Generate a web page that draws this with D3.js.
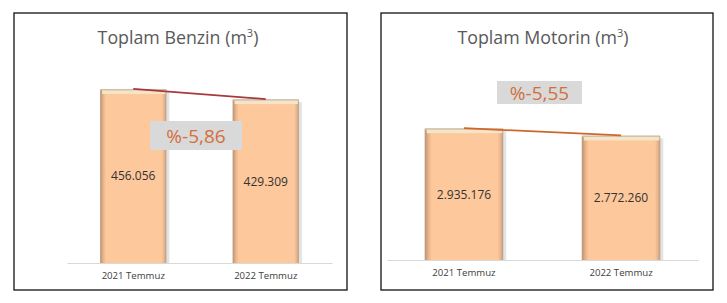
<!DOCTYPE html>
<html><head><meta charset="utf-8">
<script src="https://cdn.jsdelivr.net/npm/d3@7"></script>
<style>body{margin:0;background:#fff;} svg{display:block;font-family:"Open Sans",sans-serif;}</style>
</head><body>
<svg id="c" width="727" height="303"></svg>
<script>
const categories = ["2021 Temmuz", "2022 Temmuz"];
const benzinValues = [456056, 429309];
const benzinLabels = ["456.056", "429.309"];
const benzinChange = "%-5,86";
const motorinValues = [2935176, 2772260];
const motorinLabels = ["2.935.176", "2.772.260"];
const motorinChange = "%-5,55";

const svg = d3.select("#c");
const defs = svg.append("defs");
const g1 = defs.append("linearGradient").attr("id","barGrad").attr("x1","0").attr("x2","1").attr("y1","0").attr("y2","0");
[["0%","#b89274"],["5%","#e9b58a"],["9%","#fdc89b"],["93%","#fdc89b"],["97%","#e5b38b"],["100%","#b59a86"]]
  .forEach(([o,c])=>g1.append("stop").attr("offset",o).attr("stop-color",c));

function panel(opt){
  const g = svg.append("g");
  g.append("rect").attr("x",opt.box[0]).attr("y",opt.box[1]).attr("width",opt.box[2]).attr("height",opt.box[3])
    .attr("fill","#fff").attr("stroke","#111").attr("stroke-width",1.3);
  const t = g.append("text").attr("x",opt.titleX).attr("y",44).attr("text-anchor","middle")
    .attr("font-size",17.8).attr("fill","#595959");
  t.append("tspan").text(opt.title + " (m");
  t.append("tspan").text("3").attr("font-size",11).attr("dy",-7);
  t.append("tspan").text(")").attr("dy",7);

  const x = d3.scaleBand().domain(categories).range(opt.xr).paddingInner(0.5).paddingOuter(opt.po);
  const y = d3.scaleLinear().domain([0, opt.ymax]).range(opt.yr);

  const ax = g.append("g").attr("transform",`translate(0,${opt.yr[0]})`)
    .call(d3.axisBottom(x).tickSize(0).tickPadding(9));
  ax.select(".domain").attr("stroke","#d9d9d9").attr("stroke-width",1.2);
  ax.selectAll("text").attr("font-size",9.6).attr("fill","#404040").attr("font-family","'Open Sans',sans-serif");

  const vals = opt.values;
  g.selectAll(".sh").data(vals).join("rect")
    .attr("x",(d,i)=>x(categories[i])+3).attr("y",d=>y(d)+2)
    .attr("width",x.bandwidth()).attr("height",d=>opt.yr[0]-y(d)-2)
    .attr("fill","#e3e3e3");
  g.selectAll(".bar").data(vals).join("rect")
    .attr("x",(d,i)=>x(categories[i])).attr("y",d=>y(d))
    .attr("width",x.bandwidth()).attr("height",d=>opt.yr[0]-y(d))
    .attr("fill","url(#barGrad)");
  g.selectAll(".top").data(vals).join("rect")
    .attr("x",(d,i)=>x(categories[i])+2).attr("y",d=>y(d))
    .attr("width",x.bandwidth()-3).attr("height",4)
    .attr("fill","#f6e4c6");
  g.selectAll(".topl").data(vals).join("rect")
    .attr("x",(d,i)=>x(categories[i])).attr("y",d=>y(d)-1)
    .attr("width",x.bandwidth()).attr("height",1.5)
    .attr("fill","#cdbfae");

  const line = d3.line().x((d,i)=>x(categories[i])+x.bandwidth()/2).y(d=>y(d)-1);
  g.append("path").datum(vals).attr("d",line).attr("fill","none")
    .attr("stroke",opt.lineColor).attr("stroke-width",1.8);

  g.selectAll(".vl").data(vals).join("text")
    .attr("x",(d,i)=>x(categories[i])+x.bandwidth()/2)
    .attr("y",d=>(y(d)+opt.yr[0])/2+4)
    .attr("text-anchor","middle").attr("font-size",12).attr("fill","#333")
    .text((d,i)=>opt.labels[i]);

  g.append("rect").attr("x",opt.chg[0]).attr("y",opt.chg[1]).attr("width",opt.chg[2]).attr("height",opt.chg[3])
    .attr("fill","#d9d9d9");
  g.append("text").attr("x",opt.chg[0]+opt.chg[2]/2).attr("y",opt.chg[1]+opt.chg[3]/2+7)
    .attr("text-anchor","middle").attr("font-size",19).attr("fill","#d2703c").text(opt.change);
}

panel({box:[14,13,333,277], title:"Toplam Benzin", titleX:178, xr:[67,332], po:0.25,
  ymax:500000, yr:[263,73.3], values:benzinValues, labels:benzinLabels, lineColor:"#a8393b",
  chg:[150,121,92,29], change:benzinChange});
panel({box:[381,13,332,277], title:"Toplam Motorin", titleX:543, xr:[387,698], po:0.24,
  ymax:3500000, yr:[260,104], values:motorinValues, labels:motorinLabels, lineColor:"#d2652a",
  chg:[497,81,85,23], change:motorinChange});
</script>
</body></html>
